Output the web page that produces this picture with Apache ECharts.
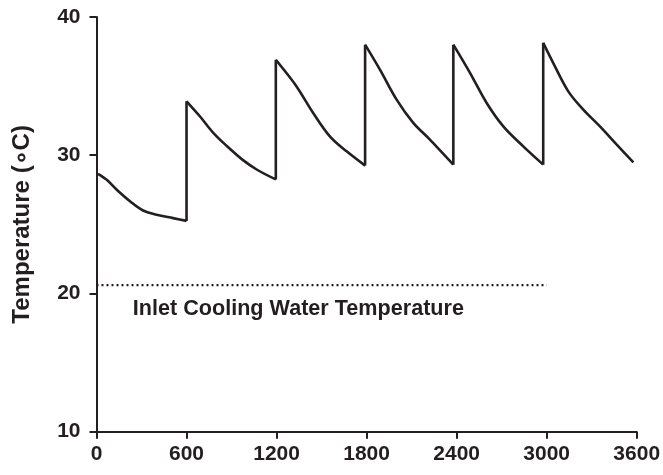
<!DOCTYPE html>
<html>
<head>
<meta charset="utf-8">
<script src="https://cdn.jsdelivr.net/npm/echarts@6/dist/echarts.min.js"></script>
<style>html,body{margin:0;padding:0;background:#fff}#c{width:663px;height:475px}</style>
</head>
<body>
<div id="c"></div>
<script>
// Data
const tempTimes = [10, 70, 135, 225, 310, 400, 510, 600,
  600, 690, 780, 870, 970, 1070, 1195,
  1195, 1222, 1333, 1444, 1555, 1667, 1790,
  1790, 1889, 2000, 2111, 2222, 2378,
  2378, 2489, 2600, 2711, 2844, 2977,
  2977, 3044, 3144, 3244, 3355, 3467, 3578];
const tempValues = [28.65, 28.2, 27.5, 26.65, 26.0, 25.7, 25.45, 25.25,
  33.9, 32.8, 31.6, 30.65, 29.7, 28.95, 28.25,
  36.9, 36.55, 34.98, 33.06, 31.37, 30.28, 29.25,
  38.0, 36.19, 34.02, 32.34, 31.13, 29.32,
  38.0, 35.96, 33.78, 32.09, 30.64, 29.32,
  38.13, 36.67, 34.62, 33.3, 32.09, 30.77, 29.49];
const inletTimes = [0, 3000];
const inletValues = [20.6, 20.6];
const inletLabel = 'Inlet Cooling Water Temperature';
const inletLabelPos = [242, 18.85];
const xTicks = [0, 600, 1200, 1800, 2400, 3000, 3600];
const yTicks = [10, 20, 30, 40];
const yTitle = 'Temperature (\u2218C)';

const ink = '#231f20';
const sans = '"Liberation Sans", Arial, sans-serif';

// split the sawtooth into smooth decay segments and straight vertical jumps
const pts = tempTimes.map((t, i) => [t, tempValues[i]]);
const segments = [[]];
const jumps = [];
pts.forEach((p, i) => {
  if (i > 0 && p[0] === pts[i - 1][0]) {
    jumps.push([pts[i - 1], p]);
    segments.push([]);
  }
  segments[segments.length - 1].push(p);
});
const series = [];
segments.forEach(seg => series.push({
  type: 'line', data: seg, showSymbol: false, smooth: 0.35,
  lineStyle: {color: ink, width: 2.6}
}));
jumps.forEach(j => series.push({
  type: 'line', data: j, showSymbol: false, lineStyle: {color: ink, width: 2.6}
}));
series.push({
  type: 'line', data: inletTimes.map((t, i) => [t, inletValues[i]]),
  showSymbol: false, lineStyle: {color: ink, width: 2.2, type: [2, 3]}
});
series.push({
  type: 'scatter', data: [inletLabelPos], symbolSize: 0,
  itemStyle: {opacity: 1},
  label: {show: true, position: 'right', distance: 0, formatter: inletLabel,
    color: ink, fontFamily: sans, fontWeight: 'bold', fontSize: 21.6}
});

const chart = echarts.init(document.getElementById('c'));
chart.setOption({
  animation: false,
  grid: {left: 96.5, right: 26.3, top: 17, bottom: 43.3, containLabel: false, outerBoundsMode: 'none'},
  xAxis: {
    type: 'value', min: xTicks[0], max: xTicks[xTicks.length - 1], interval: 600,
    splitLine: {show: false},
    axisLine: {lineStyle: {color: ink, width: 2}},
    axisTick: {length: 7, lineStyle: {color: ink, width: 2}},
    axisLabel: {color: ink, fontFamily: sans, fontWeight: 'bold', fontSize: 21, margin: 12,
      formatter: v => String(v)}
  },
  yAxis: {
    type: 'value', min: yTicks[0], max: yTicks[yTicks.length - 1], interval: 10,
    name: yTitle, nameLocation: 'middle', nameGap: 62,
    nameTextStyle: {color: ink, fontFamily: sans, fontWeight: 'bold', fontSize: 24},
    splitLine: {show: false},
    axisLine: {lineStyle: {color: ink, width: 2}},
    axisTick: {length: 7, lineStyle: {color: ink, width: 2}},
    axisLabel: {color: ink, fontFamily: sans, fontWeight: 'bold', fontSize: 21, margin: 16,
      formatter: v => String(v)}
  },
  series: series
});
</script>
</body>
</html>
